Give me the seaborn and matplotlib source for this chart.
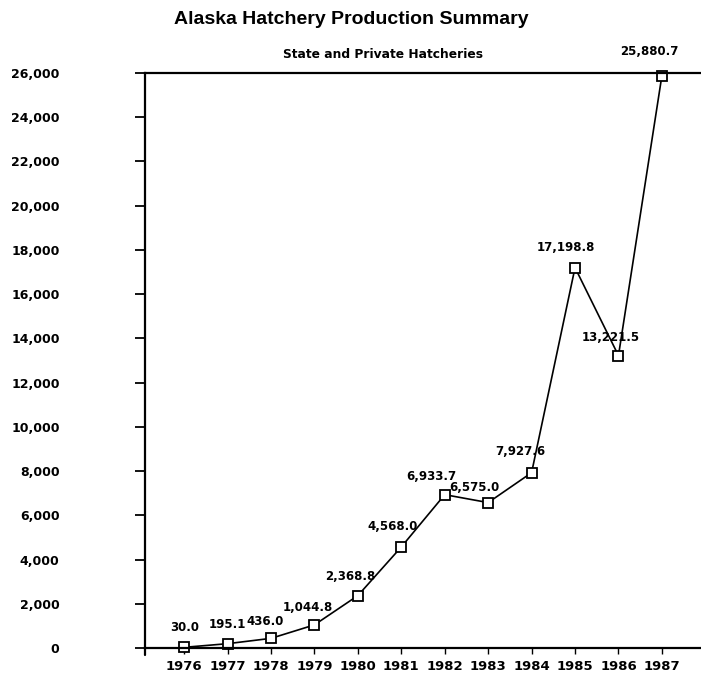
import matplotlib
matplotlib.use("Agg")
import matplotlib.pyplot as plt
import seaborn as sns
import pandas as pd

# Alaska hatchery production, state and private hatcheries
years = [1976, 1977, 1978, 1979, 1980, 1981, 1982, 1983, 1984, 1985, 1986, 1987]
production = [30.0, 195.1, 436.0, 1044.8, 2368.8, 4568.0, 6933.7, 6575.0,
              7927.6, 17198.8, 13221.5, 25880.7]
y_ticks = [0, 2000, 4000, 6000, 8000, 10000, 12000, 14000, 16000, 18000,
           20000, 22000, 24000, 26000]

# label offsets in pixels (dx, dy) relative to each point
label_offsets = [(1, 20), (0, 19), (-6, 17), (-7, 17), (-8, 19), (-9, 20),
                 (-13, 18), (-14, 15), (-11, 21), (-9, 20), (-8, 18), (-13, 24)]

df = pd.DataFrame({"year": years, "production": production})

sns.set_style("white")
plt.rcParams["font.family"] = ["DejaVu Sans"]
plt.rcParams["font.weight"] = "bold"
plt.rcParams["text.color"] = "black"

fig = plt.figure(figsize=(7.01, 6.85), dpi=100)
ax = fig.add_axes([145 / 701, 37 / 685, 556 / 701, 575 / 685])

sns.lineplot(data=df, x="year", y="production", ax=ax, color="black",
             linewidth=1.2, marker="s", markersize=7, markerfacecolor="white",
             markeredgecolor="black", markeredgewidth=1.3, clip_on=False)

ax.set_xlim(1975.1, 1987.9)
ax.set_ylim(0, 26000)
ax.set_xticks(years)
ax.set_xticklabels([str(y) for y in years], fontsize=9.5, fontweight="bold")
ax.set_yticks(y_ticks)
ax.set_yticklabels([f"{v:,}" for v in y_ticks], fontsize=9, fontweight="bold",
                   ha="right")
ax.set_xlabel("")
ax.set_ylabel("")

for side in ["left", "bottom", "top"]:
    ax.spines[side].set_visible(True)
    ax.spines[side].set_color("black")
    ax.spines[side].set_linewidth(1.6)
ax.spines["right"].set_visible(False)

ax.tick_params(axis="y", direction="out", length=7.5, width=1.3, pad=54,
               colors="black", left=True)
ax.tick_params(axis="x", direction="out", length=4, width=1.0, pad=5,
               colors="black", bottom=True)

# left axis runs a little below the baseline
ax.plot([0, 0], [0, -0.012], transform=ax.transAxes, color="black",
        linewidth=1.6, clip_on=False)

for yr, val, (dx, dy) in zip(years, production, label_offsets):
    ax.annotate(f"{val:,.1f}", xy=(yr, val), xytext=(dx, dy),
                textcoords="offset pixels", ha="center", va="center",
                fontsize=8.5, fontweight="bold", color="black",
                annotation_clip=False)

fig.text(351 / 701, 1 - 19 / 685, "Alaska Hatchery Production Summary",
         ha="center", va="center", fontsize=14, fontweight="bold",
         family=["Liberation Sans", "DejaVu Sans"], color="black")
fig.text(383 / 701, 1 - 55 / 685, "State and Private Hatcheries",
         ha="center", va="center", fontsize=8.8, fontweight="bold",
         color="black")

fig.savefig("out.png", dpi=100)
